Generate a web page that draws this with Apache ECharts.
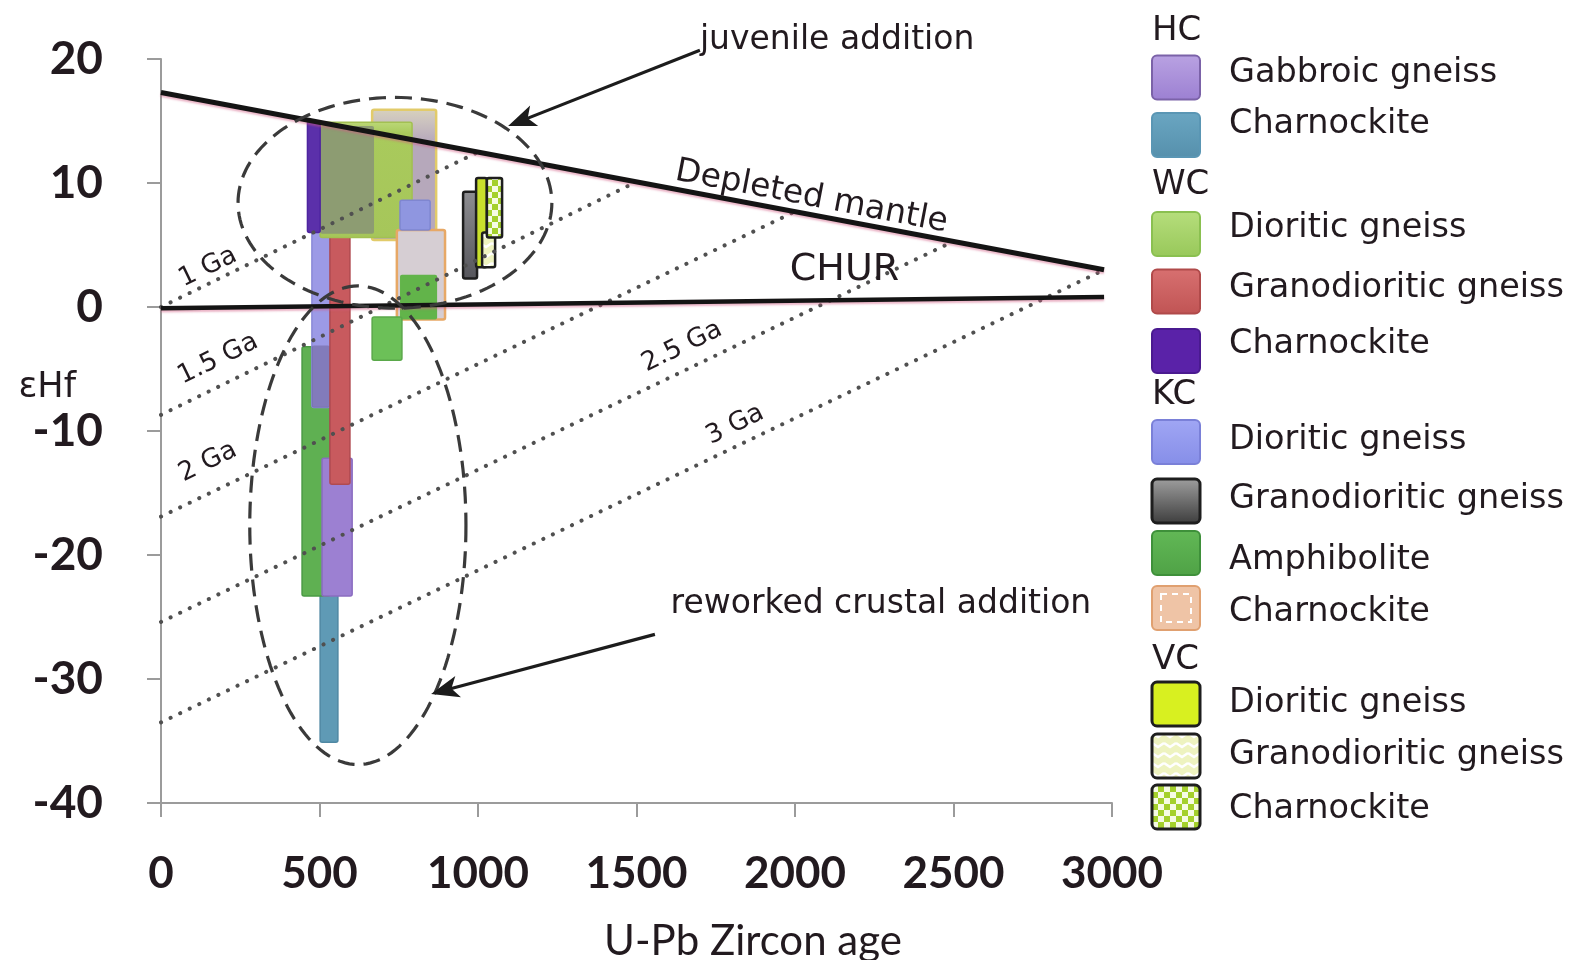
<!DOCTYPE html>
<html><head><meta charset="utf-8">
<script src="https://cdn.jsdelivr.net/npm/echarts@6/dist/echarts.min.js"></script>
<style>html,body{margin:0;padding:0;background:#fff}#c{width:1580px;height:960px}</style>
</head><body><div id="c"></div>
<script>
// ---------------- data ----------------
const xTicks = [0, 500, 1000, 1500, 2000, 2500, 3000];
const yTicks = [-40, -30, -20, -10, 0, 10, 20];

// rock boxes: U-Pb zircon age range (Ma) and εHf range
const boxRock = ['HC Charnockite','KC Amphibolite','KC Dioritic gneiss','KC Granodioritic gneiss','HC Gabbroic gneiss','WC Granodioritic gneiss',
  'KC Charnockite','WC Dioritic gneiss','HC Gabbroic gneiss','WC Charnockite','KC Charnockite','KC Amphibolite','KC Dioritic gneiss',
  'KC Amphibolite','KC Granodioritic gneiss','VC Dioritic gneiss','VC Granodioritic gneiss','VC Charnockite'];
const ageMin = [502, 445, 476, 476, 508, 533, 666, 502, 502, 462, 744, 754, 754, 666, 953, 994, 1013, 1028];
const ageMax = [558, 533, 533, 533, 603, 596, 868, 792, 672, 502, 896, 871, 849, 760, 997, 1028, 1054, 1076];
const hfMin  = [-35.1, -23.3, -8.1, -8.1, -23.3, -14.3, 5.4, 5.6, 5.9, 6.0, -1.0, -1.0, 6.2, -4.3, 2.3, 3.2, 3.2, 5.6];
const hfMax  = [-20, -3.2, 6.4, -3.1, -12.2, 6.4, 15.9, 14.9, 14.6, 15.0, 6.2, 2.6, 8.6, -0.8, 9.3, 10.4, 6.0, 10.4];

// reference curves [age, εHf]
const dmLine   = [[0, 17.3], [2975, 3.0]];
const churLine = [[0, -0.1], [2975, 0.8]];
const ga1  = [[0, 0.0], [1000, 12.5]];
const ga15 = [[0, -8.7], [1500, 10.1]];
const ga2  = [[0, -16.9], [2000, 7.7]];
const ga25 = [[0, -25.4], [2500, 5.3]];
const ga3  = [[0, -33.5], [2975, 3.0]];

// dashed ellipses: [centre age, centre εHf, age radius, εHf radius]
const ellipses = [[738, 8.4, 495, 8.5], [621, -17.6, 341, 19.3]];
// arrows: [from age, from εHf, to age, to εHf]
const arrows = [[1700, 20.7, 1095, 14.6], [1558, -26.4, 852, -31.2]];
// annotations
const annoText = ['juvenile addition', 'reworked crustal addition', 'Depleted mantle', 'CHUR', '1 Ga', '1.5 Ga', '2 Ga', '2.5 Ga', '3 Ga'];
const annoAge  = [2133, 2271, 2052, 2156, 148, 180, 148, 1644, 1811];
const annoHf   = [21.5, -24.0, 8.86, 2.98, 3.2, -4.2, -12.5, -3.2, -9.5];

// legend
const legendGroups = ['HC', 'WC', 'KC', 'VC'];
const legendRocks = [['Gabbroic gneiss', 'Charnockite'], ['Dioritic gneiss', 'Granodioritic gneiss', 'Charnockite'],
  ['Dioritic gneiss', 'Granodioritic gneiss', 'Amphibolite', 'Charnockite'], ['Dioritic gneiss', 'Granodioritic gneiss', 'Charnockite']];

// ---------------- styles ----------------
const FONT_AX = 'Lato';
const FONT_TX = 'DejaVu Sans';
const INK = '#221a1f';

function makeChecker() {
  const c = document.createElement('canvas'); c.width = 12; c.height = 12;
  const g = c.getContext('2d');
  g.fillStyle = '#f6fbe4'; g.fillRect(0, 0, 12, 12);
  g.fillStyle = '#a4d02c'; g.fillRect(0, 0, 6, 6); g.fillRect(6, 6, 6, 6);
  return c;
}
function makeZigzag() {
  const c = document.createElement('canvas'); c.width = 12; c.height = 10;
  const g = c.getContext('2d');
  g.fillStyle = '#eef3c0'; g.fillRect(0, 0, 12, 10);
  g.strokeStyle = '#ffffff'; g.lineWidth = 2.5;
  g.beginPath(); g.moveTo(0, 3); g.lineTo(6, 7); g.lineTo(12, 3); g.stroke();
  return c;
}
const checkerPat = { image: makeChecker(), repeat: 'repeat' };
const zigzagPat = { image: makeZigzag(), repeat: 'repeat' };
const LG = (stops) => new echarts.graphic.LinearGradient(0, 0, 0, 1, stops.map((c) => ({ offset: c[0], color: c[1] })));

const boxStyles = [
  { fill: '#5f9ab5', stroke: '#4f88a3' },
  { fill: '#5fb052', stroke: '#4a9a44' },
  { fill: '#9c9ae6', stroke: '#8a8ad8' },
  { fill: 'rgba(80,60,100,0.33)', stroke: null },
  { fill: '#9c80d2', stroke: '#8a6cc0' },
  { fill: '#c85a5e', stroke: '#b04a50' },
  { fill: LG([[0, '#d8d2bc'], [0.1, '#cbc2bf'], [0.25, '#b6a8bb'], [1, '#b6a8bb']]), stroke: '#e2cb6a', lw: 2.5 },
  { fill: LG([[0, '#bcd878'], [0.1, '#a9ca5c'], [1, '#a6c65a']]), stroke: '#a2c052' },
  { fill: '#8d9c72', stroke: null },
  { fill: '#5b30aa', stroke: '#4e24a0' },
  { fill: '#d6ced3', stroke: '#e7a866', lw: 2.5 },
  { fill: '#62b44a', stroke: null },
  { fill: '#8f96e0', stroke: '#7f86d0' },
  { fill: '#6cc058', stroke: '#5aa84a' },
  { fill: LG([[0, '#8e8e92'], [1, '#55555b']]), stroke: '#1e1e1e', lw: 2.5 },
  { fill: '#c9e02c', stroke: '#1e1e1e', lw: 2.5 },
  { fill: zigzagPat, stroke: '#1e1e1e', lw: 2.5 },
  { fill: checkerPat, stroke: '#1e1e1e', lw: 2.5 }
];

const legendStyles = {
  'HC Gabbroic gneiss': { fill: LG([[0, '#b9a2e2'], [1, '#9c80d2']]), stroke: '#7b62a8' },
  'HC Charnockite': { fill: LG([[0, '#6aa6c2'], [1, '#5690ac']]), stroke: '#5a96b4' },
  'WC Dioritic gneiss': { fill: LG([[0, '#b6de7c'], [1, '#98c85a']]), stroke: '#8ac050' },
  'WC Granodioritic gneiss': { fill: LG([[0, '#d87070'], [1, '#c05454']]), stroke: '#b04a4a' },
  'WC Charnockite': { fill: '#5a22a8', stroke: '#4a1a90' },
  'KC Dioritic gneiss': { fill: LG([[0, '#a0a6f4'], [1, '#868ee8']]), stroke: '#7a80d8' },
  'KC Granodioritic gneiss': { fill: LG([[0, '#a0a0a0'], [1, '#3c3c3c']]), stroke: '#1e1e1e', lw: 3 },
  'KC Amphibolite': { fill: LG([[0, '#62b856'], [1, '#4fa246']]), stroke: '#3e903a' },
  'KC Charnockite': { fill: '#efc4a6', stroke: '#e0a070', inner: true },
  'VC Dioritic gneiss': { fill: '#d8f020', stroke: '#1e1e1e', lw: 3 },
  'VC Granodioritic gneiss': { fill: zigzagPat, stroke: '#1e1e1e', lw: 3 },
  'VC Charnockite': { fill: checkerPat, stroke: '#1e1e1e', lw: 3 }
};

const annoStyles = [
  { size: 33, rot: 0 }, { size: 33, rot: 0 }, { size: 33, rot: -10.9 }, { size: 38, rot: 0 },
  { size: 26, rot: 26 }, { size: 26, rot: 26 }, { size: 26, rot: 26 }, { size: 26, rot: 26 }, { size: 26, rot: 26 }
];

// legend layout
const LX_SW = 1152, LX_TX = 1229, SW_W = 48, SW_H = 44;
const headerY = [31.5, 185, 395, 660];
const swatchY = [[77.5, 135], [234, 291.5, 351], [442, 501, 553, 608], [704, 756, 807]];
const textY = [[73, 124], [228, 288, 344], [440, 499, 560, 612], [703, 755, 809]];

const graphics = [];
legendGroups.forEach((g, gi) => {
  graphics.push({ type: 'text', x: LX_SW, y: headerY[gi], style: { text: g, fontSize: 34, fontFamily: FONT_TX, fill: INK, verticalAlign: 'middle' } });
  legendRocks[gi].forEach((r, ri) => {
    const st = legendStyles[g + ' ' + r];
    graphics.push({ type: 'rect', shape: { x: LX_SW, y: swatchY[gi][ri] - SW_H / 2, width: SW_W, height: SW_H, r: 5 },
      style: { fill: st.fill, stroke: st.stroke, lineWidth: st.lw || 2 } });
    if (st.inner) {
      graphics.push({ type: 'rect', shape: { x: LX_SW + 9, y: swatchY[gi][ri] - SW_H / 2 + 8, width: SW_W - 18, height: SW_H - 16 },
        style: { fill: null, stroke: '#ffffff', lineWidth: 2, lineDash: [6, 5] } });
    }
    graphics.push({ type: 'text', x: LX_TX, y: textY[gi][ri], style: { text: r, fontSize: 33.5, fontFamily: FONT_TX, fill: INK, verticalAlign: 'middle' } });
  });
});
// y-axis title
graphics.push({ type: 'text', x: 76, y: 388, style: { text: 'εHf', fontSize: 35, fontFamily: FONT_TX, fill: INK, align: 'right', verticalAlign: 'middle' } });

// ---------------- render helpers ----------------
function boxRender(params, api) {
  const i = api.value(4);
  const p1 = api.coord([api.value(0), api.value(3)]);
  const p2 = api.coord([api.value(1), api.value(2)]);
  const st = boxStyles[i];
  return { type: 'rect', shape: { x: p1[0], y: p1[1], width: p2[0] - p1[0], height: p2[1] - p1[1], r: 2 },
    style: { fill: st.fill, stroke: st.stroke, lineWidth: st.lw || 1.5 } };
}
function ellRender(params, api) {
  const c = api.coord([api.value(0), api.value(1)]);
  const s = api.size([api.value(2), api.value(3)]);
  const pts = [];
  for (let k = 0; k <= 160; k++) { const t = k / 160 * 2 * Math.PI; pts.push([c[0] + s[0] * Math.cos(t), c[1] + s[1] * Math.sin(t)]); }
  return { type: 'polyline', shape: { points: pts }, style: { fill: null, stroke: '#3a3a3a', lineWidth: 3.2, lineDash: [17, 9] } };
}
function arrowRender(params, api) {
  const a = api.coord([api.value(0), api.value(1)]);
  const b = api.coord([api.value(2), api.value(3)]);
  const dx = b[0] - a[0], dy = b[1] - a[1], L = Math.hypot(dx, dy), ux = dx / L, uy = dy / L;
  const hl = 28, hw = 11;
  const base = [b[0] - ux * hl, b[1] - uy * hl];
  return { type: 'group', children: [
    { type: 'line', shape: { x1: a[0], y1: a[1], x2: base[0] + ux * 8, y2: base[1] + uy * 8 }, style: { stroke: '#1c1c1c', lineWidth: 3.2 } },
    { type: 'polygon', shape: { points: [b, [base[0] - uy * hw, base[1] + ux * hw], [base[0] + ux * 7, base[1] + uy * 7], [base[0] + uy * hw, base[1] - ux * hw]] },
      style: { fill: '#1c1c1c' } }
  ] };
}
function textRender(params, api) {
  const i = api.value(2);
  const p = api.coord([api.value(0), api.value(1)]);
  const st = annoStyles[i];
  return { type: 'text', x: p[0], y: p[1], rotation: st.rot * Math.PI / 180,
    style: { text: annoText[i], fontSize: st.size, fontFamily: FONT_TX, fill: INK, align: 'center', verticalAlign: 'middle' } };
}

const dotStyle = { color: '#505050', width: 4, type: [0.1, 10.5], cap: 'round' };
const lineSeries = (data, ls, z) => ({ type: 'line', data: data, symbol: 'none', silent: true, z: z, lineStyle: ls, clip: false });

const option = {
  backgroundColor: '#ffffff',
  animation: false,
  grid: { left: 161, right: 468, top: 59, bottom: 157, containLabel: false, outerBoundsMode: 'none' },
  xAxis: {
    type: 'value', min: xTicks[0], max: xTicks[xTicks.length - 1], interval: xTicks[1] - xTicks[0],
    axisLine: { show: true, onZero: false, lineStyle: { color: '#9b9b9b', width: 2 } },
    axisTick: { show: true, length: 14, lineStyle: { color: '#9b9b9b', width: 2 } },
    splitLine: { show: false },
    axisLabel: { fontFamily: FONT_AX, fontSize: 44, fontWeight: 'bold', color: INK, margin: 49, formatter: (v) => String(v) },
    name: 'U-Pb Zircon age', nameLocation: 'middle', nameGap: 117,
    nameTextStyle: { fontFamily: FONT_AX, fontSize: 42, color: INK, padding: [0, 0, 0, 233] }
  },
  yAxis: {
    type: 'value', min: yTicks[0], max: yTicks[yTicks.length - 1], interval: yTicks[1] - yTicks[0],
    axisLine: { show: true, onZero: false, lineStyle: { color: '#9b9b9b', width: 2 } },
    axisTick: { show: true, length: 14, lineStyle: { color: '#9b9b9b', width: 2 } },
    splitLine: { show: false },
    axisLabel: { fontFamily: FONT_AX, fontSize: 46, fontWeight: 'bold', color: INK, margin: 58, formatter: (v) => String(v) }
  },
  graphic: graphics,
  series: [
    { type: 'custom', renderItem: boxRender, z: 2, silent: true, encode: { x: [0, 1], y: [2, 3] },
      data: boxRock.map((n, i) => [ageMin[i], ageMax[i], hfMin[i], hfMax[i], i]) },
    lineSeries(ga1, dotStyle, 3), lineSeries(ga15, dotStyle, 3), lineSeries(ga2, dotStyle, 3),
    lineSeries(ga25, dotStyle, 3), lineSeries(ga3, dotStyle, 3),
    lineSeries(dmLine, { color: '#141414', width: 5, shadowColor: 'rgba(210,90,130,0.45)', shadowBlur: 2, shadowOffsetY: 2 }, 4),
    lineSeries(churLine, { color: '#141414', width: 4.5, shadowColor: 'rgba(210,90,130,0.45)', shadowBlur: 2, shadowOffsetY: 2 }, 4),
    { type: 'custom', renderItem: ellRender, z: 5, silent: true, encode: { x: 0, y: 1 }, data: ellipses },
    { type: 'custom', renderItem: arrowRender, z: 6, silent: true, encode: { x: [0, 2], y: [1, 3] }, data: arrows },
    { type: 'custom', renderItem: textRender, z: 6, silent: true, encode: { x: 0, y: 1 },
      data: annoText.map((t, i) => [annoAge[i], annoHf[i], i]) }
  ]
};

const chart = echarts.init(document.getElementById('c'));
chart.setOption(option);
</script>
</body></html>
